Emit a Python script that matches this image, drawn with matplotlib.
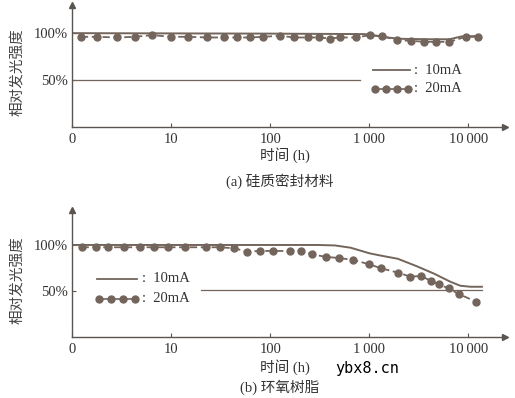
import matplotlib
matplotlib.use("Agg")
import matplotlib.pyplot as plt
import numpy as np

plt.rcParams['font.family'] = ['Liberation Serif', 'Noto Sans CJK SC', 'DejaVu Sans']

# ---------- data (a) silicone encapsulant ----------
a_10mA_h = [1, 100, 900, 1500, 2000, 4000, 6500, 8500, 13000]
a_10mA_v = [100, 99.5, 99, 95.5, 94, 93.5, 93.5, 96.5, 97]
a_20mA_h = [1.23, 1.79, 2.85, 4.33, 6.43, 10, 14.9, 23.1, 34.4, 46.4, 63, 85, 126, 175,
            242, 312, 401, 508, 735, 1023, 1355, 1915, 2660, 3590, 4750, 6420, 9390, 12400]
a_20mA_v = [96.1, 96.1, 95.4, 96.1, 97.9, 96.1, 96.1, 95.4, 95.4, 95.4, 95.4, 96.1, 97.2, 95.4,
            95.4, 95.4, 94.3, 95.4, 95.4, 97.9, 96.8, 92.6, 91.8, 90.8, 90.8, 90.8, 96.1, 96.1]
a_ref_h = [1, 800]
a_ref_v = [50, 50]

# ---------- data (b) epoxy resin ----------
b_10mA_h = [1, 300, 450, 650, 1000, 1300, 1940, 3000, 4470, 6600, 8300, 10500, 13700]
b_10mA_v = [100, 100, 99.5, 97, 91, 88.5, 85, 77, 69, 60, 55.7, 54.6, 54.6]
b_20mA_h = [1.25, 1.75, 2.3, 3.35, 4.9, 6.8, 9.4, 13.8, 22.5, 31, 43.5, 58, 79, 107, 157,
            204, 264, 368, 490, 692, 1000, 1320, 1940, 2590, 3320, 4160, 5020, 6320, 7980, 12000]
b_20mA_v = [97.5, 97.5, 97.5, 97.5, 97.5, 97.5, 97.5, 97.5, 97.5, 97.5, 96.4, 92.8, 93.5, 93.5, 93.5,
            93.5, 89.9, 87, 85.9, 83.7, 79, 74.6, 70, 65.6, 66.3, 61.2, 57.2, 52.9, 46.7, 38.4]
b_ref_h = [20, 13700]
b_ref_v = [51.5, 51.5]

xticks = [1, 10, 100, 1000, 10000]
xticklabels = ['0', '10', '100', '1\u2009000', '10\u2009000']
yticks = [50, 100]
yticklabels = ['50%', '100%']

C = '#73655c'
W, H = 515, 398
fig = plt.figure(figsize=(W / 100, H / 100), dpi=100)

def px(x0, y0, x1, y1):
    return [x0 / W, 1 - y1 / H, (x1 - x0) / W, (y1 - y0) / H]

def setup(ax, ytop, xright):
    ax.set_xscale('log')
    ax.set_xlim(1, xright)
    ax.set_ylim(0, ytop)
    for s in ['top', 'right']:
        ax.spines[s].set_visible(False)
    for s in ['left', 'bottom']:
        ax.spines[s].set_color('#5a5550')
        ax.spines[s].set_linewidth(1.0)
    ax.set_xticks(xticks)
    ax.set_xticklabels(xticklabels, fontsize=10.5, color='#333333')
    ax.xaxis.set_minor_locator(matplotlib.ticker.NullLocator())
    ax.set_yticks(yticks)
    ax.set_yticklabels(yticklabels, fontsize=10.5, color='#333333')
    ax.tick_params(direction='in', length=3, width=0.8, color='#5a5550', pad=3)
    ax.tick_params(axis='x', pad=4)
    ax.patch.set_alpha(0)
    # arrows at axis ends
    ax.plot(1, 0, '>', transform=ax.transAxes, color='#5a5550', ms=4, clip_on=False)
    ax.plot(0, 1, '^', transform=ax.transAxes, color='#5a5550', ms=4, clip_on=False)
    ax.set_ylabel('相对发光强度', family=['Noto Sans CJK SC'], fontsize=10.5, color='#444444')

def legend(ax, x0, x1, y1, y2, xt):
    ax.plot([x0, x1], [y1, y1], '-', color=C, lw=1.3, transform=ax.transAxes, clip_on=False)
    xs = np.linspace(x0 + 0.005, x1 - 0.005, 4)
    ax.plot(xs, [y2] * 4, '-', color=C, lw=1.2, marker='o', ms=5, transform=ax.transAxes, clip_on=False)
    ax.text(xt, y1, ':  10mA', transform=ax.transAxes, va='center', ha='left', fontsize=10.5, color='#333333')
    ax.text(xt, y2, ':  20mA', transform=ax.transAxes, va='center', ha='left', fontsize=10.5, color='#333333')

xright = 10 ** 4.37

# (a)
ax1 = fig.add_axes(px(72, 5, 505, 127))
setup(ax1, 130, xright)
ax1.plot(a_10mA_h, a_10mA_v, '-', color=C, lw=1.4)
ax1.plot(a_20mA_h, a_20mA_v, '--', color=C, lw=1.3, marker='o', ms=5, dashes=(4, 2))
ax1.plot(a_ref_h, a_ref_v, '-', color=C, lw=0.9)
legend(ax1, (373 - 72) / 433, (410 - 72) / 433, (127 - 70) / 122, (127 - 89) / 122, (414 - 72) / 433)
ax1.yaxis.set_label_coords(-0.11, 0.45)

# (b)
ax2 = fig.add_axes(px(72, 210, 505, 337))
setup(ax2, 138, xright)
ax2.plot(b_10mA_h, b_10mA_v, '-', color=C, lw=1.4)
ax2.plot(b_20mA_h, b_20mA_v, '--', color=C, lw=1.3, marker='o', ms=5, dashes=(4, 2))
ax2.plot(b_ref_h, b_ref_v, '-', color=C, lw=0.9)
legend(ax2, (97 - 72) / 433, (137 - 72) / 433, (337 - 279) / 127, (337 - 299) / 127, (142 - 72) / 433)
ax2.yaxis.set_label_coords(-0.11, 0.45)

# labels
fig.text(285 / W, 1 - 155 / H, '时间 (h)', ha='center', va='center', fontsize=10.5, color='#333333',
         family=['Liberation Serif', 'Noto Sans CJK SC'])
fig.text(280 / W, 1 - 181 / H, '(a) 硅质密封材料', ha='center', va='center', fontsize=10.5, color='#333333',
         family=['Liberation Serif', 'Noto Sans CJK SC'])
fig.text(285 / W, 1 - 367 / H, '时间 (h)', ha='center', va='center', fontsize=10.5, color='#333333',
         family=['Liberation Serif', 'Noto Sans CJK SC'])
fig.text(280 / W, 1 - 387 / H, '(b) 环氧树脂', ha='center', va='center', fontsize=10.5, color='#333333',
         family=['Liberation Serif', 'Noto Sans CJK SC'])
fig.text(367 / W, 1 - 368 / H, 'ybx8.cn', ha='center', va='center', fontsize=11, color='black',
         family='DejaVu Sans Mono')

fig.savefig('out.png', dpi=100)
